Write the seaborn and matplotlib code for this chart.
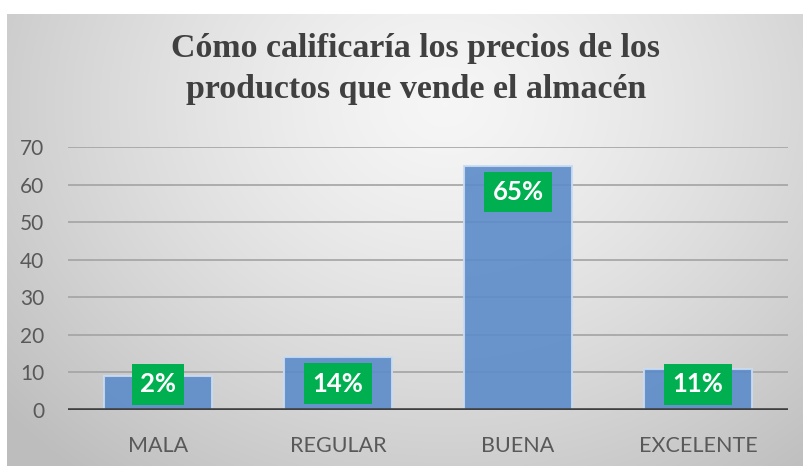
import numpy as np
import pandas as pd
import matplotlib
matplotlib.use("Agg")
import matplotlib.pyplot as plt
import seaborn as sns

categories = ["MALA", "REGULAR", "BUENA", "EXCELENTE"]
values = [9, 14, 65, 11]
labels = ["2%", "14%", "65%", "11%"]
yticks = [0, 10, 20, 30, 40, 50, 60, 70]
title = "Cómo calificaría los precios de los\nproductos que vende el almacén"

sns.set_theme(style="white")
plt.rcParams["font.family"] = ["Lato", "DejaVu Sans"]

W, H = 804, 466
fig = plt.figure(figsize=(W / 100, H / 100), dpi=100)
fig.patch.set_facecolor("white")

# background gradient panel
bx0, by0 = 7, 14
bg = fig.add_axes([bx0 / W, 0, (W - bx0) / W, (H - by0) / H], zorder=-10)
bw, bh = W - bx0, H - by0
xx, yy = np.meshgrid(np.linspace(0, 1, bw), np.linspace(0, 1, bh))
d = np.sqrt(((xx - 0.55) / 0.72) ** 2 + ((yy - 0.2) / 1.05) ** 2)
d = np.clip(d, 0, 1)
g = 0.965 - 0.22 * d ** 1.3
img = np.dstack([g, g, g])
bg.imshow(img, aspect="auto", extent=[0, 1, 1, 0], interpolation="bilinear")
bg.set_axis_off()

df = pd.DataFrame({"cat": categories, "val": values})

ax = fig.add_axes([68 / W, (H - 410) / H, (788 - 68) / W, (410 - 147) / H])
ax.set_facecolor("none")
sns.barplot(data=df, x="cat", y="val", ax=ax, width=0.6, color="#5b8bc9",
            saturation=1, edgecolor="#c9dcf2", linewidth=1.5, alpha=0.9, zorder=3)

ax.set_ylim(0, 70)
ax.set_xlim(-0.5, len(categories) - 0.5)
ax.set_yticks(yticks)
for t in yticks[1:]:
    ax.axhline(t, color="#a3a3a3", lw=1.2, zorder=1)
ax.axhline(0, color="#3f3f3f", lw=2.6, zorder=5)

for s in ax.spines.values():
    s.set_visible(False)

ax.set_xticks(range(len(categories)))
ax.set_xticklabels(categories)
ax.set_xticks(np.arange(-0.5, len(categories), 1.0), minor=True)
ax.tick_params(axis="x", which="major", length=0, pad=19, labelsize=15.5, labelcolor="#595959")
ax.tick_params(axis="x", which="minor", length=5, width=2.2, color="#3f3f3f", direction="out")
ax.tick_params(axis="y", length=0, pad=17, labelsize=15, labelcolor="#595959")
ax.set_xlabel("")
ax.set_ylabel("")

for i, (v, lab) in enumerate(zip(values, labels)):
    y = max(v - 7, 6.8)
    ax.text(i, y, lab, ha="center", va="center", color="white", fontsize=18.5,
            fontweight="bold", zorder=6,
            bbox=dict(boxstyle="square,pad=0.32", fc="#00b050", ec="none"))

fig.text(416 / W, (H - 69) / H, title, ha="center", va="center",
         family=["Liberation Serif"], fontweight="bold", fontsize=24.4,
         color="#404040", linespacing=1.45)

fig.savefig("out.png", dpi=100)
